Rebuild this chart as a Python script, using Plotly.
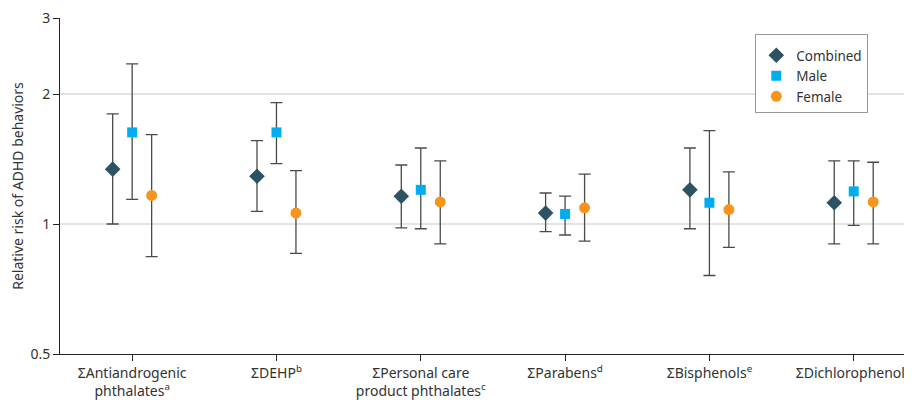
import plotly.graph_objects as go

categories = [
    "ΣAntiandrogenic<br>phthalates<sup>a</sup>",
    "ΣDEHP<sup>b</sup>",
    "ΣPersonal care<br>product phthalates<sup>c</sup>",
    "ΣParabens<sup>d</sup>",
    "ΣBisphenols<sup>e</sup>",
    "ΣDichlorophenols",
]

combined_rr = [1.34, 1.29, 1.16, 1.06, 1.20, 1.12]
combined_lo = [1.00, 1.07, 0.98, 0.96, 0.975, 0.90]
combined_hi = [1.80, 1.56, 1.37, 1.18, 1.50, 1.40]

male_rr = [1.63, 1.63, 1.20, 1.055, 1.12, 1.19]
male_lo = [1.14, 1.38, 0.975, 0.943, 0.76, 0.993]
male_hi = [2.35, 1.91, 1.50, 1.16, 1.645, 1.40]

female_rr = [1.165, 1.06, 1.125, 1.09, 1.08, 1.125]
female_lo = [0.84, 0.855, 0.90, 0.913, 0.883, 0.90]
female_hi = [1.61, 1.33, 1.40, 1.305, 1.32, 1.39]

y_ticks = [0.5, 1, 2, 3]

series = [
    ("Combined", combined_rr, combined_lo, combined_hi, "diamond", "#2c5364", 12, -0.135),
    ("Male", male_rr, male_lo, male_hi, "square", "#00aeef", 10, 0.0),
    ("Female", female_rr, female_lo, female_hi, "circle", "#f7941d", 11, 0.135),
]

FONT = "Noto Sans"
fig = go.Figure()
for name, rr, lo, hi, sym, col, size, off in series:
    xs = [i + off for i in range(len(categories))]
    fig.add_trace(go.Scatter(
        x=xs, y=rr, mode="markers", name=name,
        marker=dict(symbol=sym, color=col, size=size, line=dict(width=0)),
        error_y=dict(type="data", symmetric=False,
                     array=[h - r for h, r in zip(hi, rr)],
                     arrayminus=[r - l for r, l in zip(rr, lo)],
                     color="#4a4a4a", thickness=1.3, width=6),
    ))

fig.add_shape(type="line", xref="paper", yref="y", x0=0, x1=1, y0=1, y1=1,
              line=dict(color="#222222", width=1.2), layer="between")

# page body has an 8px margin; compensate so the plot lands where the reference has it
fig.update_layout(
    width=904, height=392,
    margin=dict(l=52, r=0, t=9, b=45),
    paper_bgcolor="white", plot_bgcolor="white",
    font=dict(family=FONT, size=14, color="#333333"),
    showlegend=True,
    legend=dict(x=0.818, y=0.953, xanchor="left", yanchor="top",
                bordercolor="#999999", borderwidth=1, bgcolor="white",
                font=dict(size=13.5, color="#333333"),
                title=dict(text=" ", font=dict(size=4)),
                tracegroupgap=0, itemwidth=30),
    xaxis=dict(range=[-0.5, 5.39], tickvals=list(range(len(categories))),
               ticktext=categories, showgrid=False, zeroline=False,
               showline=True, linecolor="#222222", linewidth=1,
               ticks="outside", ticklen=6, tickcolor="#222222",
               ticklabeloverflow="allow",
               tickfont=dict(size=14, color="#333333")),
    yaxis=dict(type="log", range=[-0.30103, 0.4771213], tickvals=y_ticks,
               ticktext=[str(v) for v in y_ticks],
               showgrid=True, gridcolor="#e3e3e3", gridwidth=1.5,
               showline=True, linecolor="#222222", linewidth=1,
               ticks="outside", ticklen=6, tickcolor="#222222",
               ticklabeloverflow="allow",
               tickfont=dict(size=14, color="#333333"),
               title=dict(text="Relative risk of ADHD behaviors",
                          font=dict(size=14, color="#333333"), standoff=8)),
)

fig.write_html("out.html")
